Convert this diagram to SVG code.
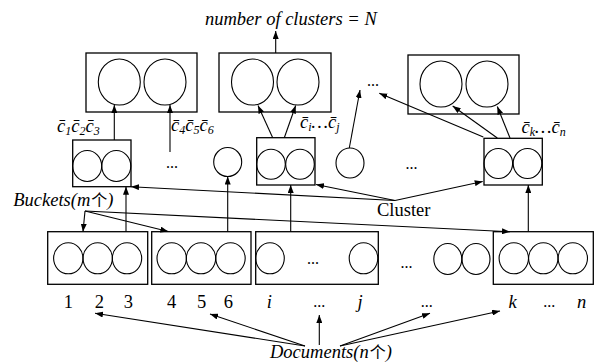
<svg xmlns="http://www.w3.org/2000/svg" width="594" height="362" viewBox="0 0 594 362">
<defs>
<marker id="ah" viewBox="0 0 8 6" refX="8" refY="3" markerWidth="8" markerHeight="6" markerUnits="userSpaceOnUse" orient="auto">
<path d="M0,0 L8,3 L0,6 z" fill="#000"/>
</marker>
</defs>
<style>
.box{fill:#fff;stroke:#000;stroke-width:1.3}
.c{fill:none;stroke:#000;stroke-width:1.1}
.ln{fill:none;stroke:#000;stroke-width:1.1;marker-end:url(#ah)}
.t{font-family:"Liberation Serif","Times New Roman",serif;font-size:18.5px;fill:#000}
.i{font-style:italic}
.cjk{font-family:"Noto Sans CJK SC",sans-serif;font-style:normal;font-size:16px}
.sub{font-size:12px}
.dots{font-family:"Liberation Serif",serif;font-size:16px;fill:#000}
</style>

<text class="t i" x="205" y="25">number of clusters = N</text>

<g id="top1">
<rect class="box" x="86" y="53" width="111" height="59"/>
<ellipse class="c" cx="119.3" cy="82" rx="21" ry="23"/>
<ellipse class="c" cx="165" cy="82" rx="21" ry="23"/>
</g>
<g id="top2">
<rect class="box" x="219" y="53" width="112" height="59"/>
<ellipse class="c" cx="252.5" cy="82" rx="21" ry="23"/>
<ellipse class="c" cx="298" cy="82" rx="21" ry="23"/>
</g>
<g id="top3">
<rect class="box" x="408" y="55" width="111" height="59"/>
<ellipse class="c" cx="441" cy="84" rx="21" ry="23"/>
<ellipse class="c" cx="487" cy="84" rx="21" ry="23"/>
</g>
<text class="dots" x="367" y="86">...</text>

<g id="midA">
<rect class="box" x="72.7" y="140" width="58.3" height="46.7"/>
<ellipse class="c" cx="87.2" cy="166" rx="14.5" ry="15.5"/>
<ellipse class="c" cx="116.3" cy="166" rx="14.5" ry="15.5"/>
</g>
<text class="dots" x="166" y="168">...</text>
<g id="midCircle1"><ellipse class="c" cx="227.7" cy="162" rx="14" ry="14.5"/></g>
<g id="midB">
<rect class="box" x="256.7" y="137.7" width="58.3" height="47.3"/>
<ellipse class="c" cx="271" cy="164.3" rx="14.3" ry="15"/>
<ellipse class="c" cx="300" cy="164.3" rx="14.3" ry="15"/>
</g>
<g id="midCircle2"><ellipse class="c" cx="350" cy="163" rx="14" ry="15"/></g>
<text class="dots" x="405.5" y="169">...</text>
<g id="midC">
<rect class="box" x="484" y="138.3" width="58.3" height="46.7"/>
<ellipse class="c" cx="498.3" cy="163.5" rx="14.3" ry="15"/>
<ellipse class="c" cx="527.5" cy="163.5" rx="14.3" ry="15"/>
</g>

<text class="t i" x="57" y="131.5">c&#x0304;<tspan class="sub" dy="3">1</tspan><tspan dy="-3">c&#x0304;</tspan><tspan class="sub" dy="3">2</tspan><tspan dy="-3">c&#x0304;</tspan><tspan class="sub" dy="3">3</tspan></text>
<text class="t i" x="171" y="131">c&#x0304;<tspan class="sub" dy="3">4</tspan><tspan dy="-3">c&#x0304;</tspan><tspan class="sub" dy="3">5</tspan><tspan dy="-3">c&#x0304;</tspan><tspan class="sub" dy="3">6</tspan></text>
<text class="t i" x="300" y="128">c&#x0304;<tspan class="sub" dy="3">i</tspan><tspan dy="-3">…c&#x0304;</tspan><tspan class="sub" dy="3">j</tspan></text>
<text class="t i" x="521.5" y="133">c&#x0304;<tspan class="sub" dy="3">k</tspan><tspan dy="-3">…c&#x0304;</tspan><tspan class="sub" dy="3">n</tspan></text>

<text class="t" x="377" y="216">Cluster</text>
<text class="t i" x="13.3" y="206">Buckets(m<tspan class="cjk" dx="1">个</tspan>)</text>

<g id="bot1">
<rect class="box" x="47.7" y="231.7" width="100" height="52.6"/>
<ellipse class="c" cx="68.3" cy="258.3" rx="14.7" ry="15.5"/>
<ellipse class="c" cx="97.7" cy="258.3" rx="14.7" ry="15.5"/>
<ellipse class="c" cx="127" cy="258.3" rx="14.7" ry="15.5"/>
</g>
<g id="bot2">
<rect class="box" x="151.7" y="231.7" width="99.3" height="52.6"/>
<ellipse class="c" cx="171.7" cy="258.3" rx="14.7" ry="15.5"/>
<ellipse class="c" cx="201" cy="258.3" rx="14.7" ry="15.5"/>
<ellipse class="c" cx="230.5" cy="258.3" rx="14.7" ry="15.5"/>
</g>
<g id="bot3">
<rect class="box" x="255.7" y="231.7" width="122.6" height="52.6"/>
<ellipse class="c" cx="270" cy="258.3" rx="14.3" ry="15.5"/>
<text class="dots" x="307" y="264">...</text>
<ellipse class="c" cx="363.5" cy="258.3" rx="14.3" ry="15.5"/>
</g>
<text class="dots" x="400.5" y="268">...</text>
<g id="bot4">
<ellipse class="c" cx="447.8" cy="259" rx="14" ry="15.5"/>
<ellipse class="c" cx="476" cy="259" rx="14" ry="15.5"/>
</g>
<g id="bot5">
<rect class="box" x="493.3" y="231.7" width="100" height="52.6"/>
<ellipse class="c" cx="513.8" cy="258.3" rx="14.7" ry="15.5"/>
<ellipse class="c" cx="543.3" cy="258.3" rx="14.7" ry="15.5"/>
<ellipse class="c" cx="572.8" cy="258.3" rx="14.7" ry="15.5"/>
</g>

<g text-anchor="middle">
<text class="t" x="68.3" y="308">1</text>
<text class="t" x="99.3" y="308">2</text>
<text class="t" x="128.3" y="308">3</text>
<text class="t" x="171.7" y="308">4</text>
<text class="t" x="201.7" y="308">5</text>
<text class="t" x="228.3" y="308">6</text>
<text class="t i" x="269.3" y="308">i</text>
<text class="dots" x="319.3" y="307">...</text>
<text class="t i" x="360" y="308">j</text>
<text class="dots" x="426.7" y="307">...</text>
<text class="t i" x="512.7" y="308">k</text>
<text class="dots" x="549.3" y="307">...</text>
<text class="t i" x="581.7" y="308">n</text>
</g>

<text class="t i" x="270" y="358">Documents(n<tspan class="cjk" dx="1">个</tspan>)</text>

<g id="connectors">
<line class="ln" x1="275.7" y1="53" x2="275.7" y2="31"/>
<line class="ln" x1="114.3" y1="140" x2="114.3" y2="105"/>
<line class="ln" x1="170" y1="152" x2="170" y2="105"/>
<line class="ln" x1="272.7" y1="137.7" x2="258" y2="105.5"/>
<line class="ln" x1="284.3" y1="137.7" x2="295.7" y2="105.5"/>
<line class="ln" x1="349.3" y1="148" x2="360" y2="90"/>
<line class="ln" x1="483.3" y1="137" x2="379.3" y2="93.3"/>
<line class="ln" x1="497.3" y1="138" x2="452.7" y2="106"/>
<line class="ln" x1="510" y1="138" x2="497.3" y2="106.5"/>

<line class="ln" x1="395" y1="200.5" x2="131" y2="186.7"/>
<line class="ln" x1="395" y1="200.5" x2="316" y2="184.5"/>
<line class="ln" x1="395" y1="200.5" x2="482.7" y2="181.5"/>

<line class="ln" x1="85" y1="211" x2="83" y2="231.7"/>
<line class="ln" x1="85" y1="211" x2="168.3" y2="231.5"/>
<line class="ln" x1="85" y1="211" x2="510" y2="231.7"/>

<line class="ln" x1="126" y1="231.7" x2="126" y2="186.7"/>
<line class="ln" x1="227.7" y1="231.7" x2="227.7" y2="176.5"/>
<line class="ln" x1="290.7" y1="231.7" x2="290.7" y2="185"/>
<line class="ln" x1="528.3" y1="231.7" x2="528.3" y2="185"/>

<line class="ln" x1="305" y1="346" x2="95" y2="313.3"/>
<line class="ln" x1="305" y1="346" x2="210" y2="314"/>
<line class="ln" x1="319.3" y1="345" x2="319.3" y2="315"/>
<line class="ln" x1="340" y1="346" x2="430" y2="313.3"/>
<line class="ln" x1="340" y1="346" x2="500" y2="311"/>
</g>
</svg>
